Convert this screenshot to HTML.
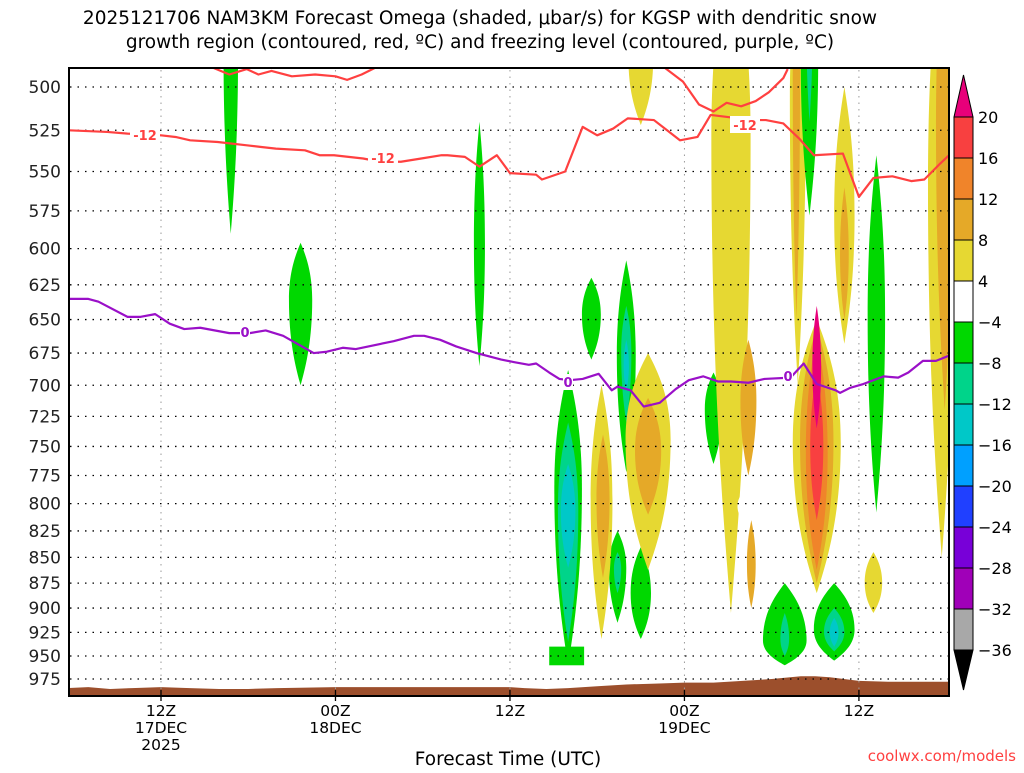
<!DOCTYPE html>
<html><head><meta charset="utf-8"><style>
body{margin:0;background:#fff;width:1024px;height:768px;overflow:hidden;font-family:"Liberation Sans",sans-serif}
svg text{font-family:"DejaVu Sans","Liberation Sans",sans-serif}
</style></head><body>
<svg id="chart" width="1024" height="768" xmlns="http://www.w3.org/2000/svg">
<text x="480" y="24" font-size="18.5" text-anchor="middle">2025121706 NAM3KM Forecast Omega (shaded, μbar/s) for KGSP with dendritic snow</text>
<text x="480" y="48" font-size="18.5" text-anchor="middle">growth region (contoured, red, ºC) and freezing level (contoured, purple, ºC)</text>
<defs><clipPath id="pc"><rect x="69" y="68" width="880" height="628"/></clipPath></defs>
<g id="plot" clip-path="url(#pc)"></g>
<g id="grid"></g>
<g id="lines" clip-path="url(#pc)"></g>
<rect x="69" y="68" width="880" height="628" fill="none" stroke="#000" stroke-width="2"/>
<g id="axes"></g>
<g id="cbar"></g>
<text x="508" y="765" font-size="18.5" text-anchor="middle">Forecast Time (UTC)</text>
<text x="1016" y="761" font-size="15" fill="#ff4040" text-anchor="end">coolwx.com/models</text>
</svg>
<script>
// ---- data ----
const pressureTicks=[500,525,550,575,600,625,650,675,700,725,750,775,800,825,850,875,900,925,950,975];
const timeTickHours=[12,24,36,48,60];
const timeTickLabels=[["12Z","17DEC","2025"],["00Z","18DEC"],["12Z"],["00Z","19DEC"],["12Z"]];
const levelColors={"-12":"#00c8c8","-8":"#00d48a","-4":"#00d800","4":"#e6d832","8":"#e5a928","12":"#f0842a","16":"#f84040","20":"#e8007a"};
// blobs: [hour, pTop, pBottom, halfWidthHours, bulgeFraction, level]
const omegaBlobs=[
[16.8,440,590,0.5,0.3,-4],[21.6,596,700,0.8,0.4,-4],[33.9,520,685,0.38,0.5,-4],
[41.6,620,680,0.65,0.45,-4],[44.0,608,772,0.65,0.45,-4],[44.0,640,730,0.35,0.4,-8],[44.0,665,705,0.18,0.5,-12],
[40.0,688,960,0.95,0.4,-4],[40.0,730,935,0.7,0.4,-8],[40.0,765,860,0.5,0.45,-12],
[43.4,825,915,0.6,0.4,-4],[43.4,845,885,0.25,0.4,-8],[45.0,840,932,0.7,0.5,-4],[50.0,690,765,0.6,0.4,-4],
[45.0,450,522,0.85,0.5,4],
[51.2,420,905,1.35,0.3,4],[52.4,665,775,0.55,0.45,8],[52.6,815,900,0.3,0.5,8],
[55.8,440,700,0.55,0.3,4],[55.7,440,650,0.25,0.3,8],
[57.1,650,885,1.65,0.45,4],[57.1,655,875,1.15,0.45,8],[57.1,662,862,0.75,0.5,12],[57.1,690,815,0.45,0.5,16],[57.1,640,735,0.3,0.5,20],
[56.6,440,578,0.6,0.35,-4],[56.6,440,520,0.22,0.3,-8],
[59.0,500,668,0.7,0.5,4],[59.0,560,650,0.3,0.5,8],
[61.2,540,808,0.6,0.45,-4],
[65.7,420,850,0.95,0.4,4],[65.9,420,720,0.6,0.4,8],
[61.0,845,905,0.6,0.5,4],
[42.3,700,932,0.75,0.45,4],[42.4,740,870,0.45,0.45,8],
[45.5,675,862,1.55,0.4,4],[45.5,710,810,0.9,0.45,8],
[54.9,875,960,1.5,0.7,-4],[54.9,905,950,0.3,0.6,-8],[58.3,875,955,1.4,0.6,-4],[58.3,900,945,0.7,0.55,-8],[58.3,910,940,0.3,0.5,-12]
];
const rectBlobs=[[38.7,41.1,940,960,-4]];
const holeBlobs=[[52.0,790,815,0.35,0.5]];
const redHoursA=[5.6,8.3,9.7,12,13,14,15.9,17.9,18.9,19.9,21.9,22.9,23.9,24.9,25.9,27.1,28.5,29.9,31.3,31.7,32.9,33.9,35.1,36,37.8,38.2,39.8,41.0,42.0,43.1,44.1,45.9,47.7,48.9,49.8,52.7,53.6,54.8,55.9,56.9,58.9,60.0,61.0,62.3,63.6,64.5,65.6,66.2];
const redPresA=[525,526,527,528,529,531,532,534,535,536,537,540,540,541,542,544,544,542,540,540,541,547,540,551,552,555,550,523,528,524,518,519,531,529,516,519,519,521,530,540,539,566,554,553,556,555,545,540];
const redHoursB=[15.5,16.7,17.9,18.7,19.6,21.0,22.6,24.0,24.8,25.8,26.8,46.6,47.9,49.0,50.0,50.9,51.9,52.9,53.8,54.8,55.1];
const redPresB=[489,493,490,493,491,494,493,494,496,493,489,489,497,510,514,509,511,508,503,495,490];
const zeroHours=[5.6,7,7.7,9.7,10.6,11.6,12.6,13.6,14.7,16.7,18.1,19.2,20.4,22.5,23.4,24.5,25.4,28,29.4,30.1,31.2,32.3,33.7,35.4,36.3,37.3,37.8,38.7,39.4,40.1,41.0,42.1,43.0,43.4,44.3,45.2,46.3,47.4,48.3,49.3,50.3,51.2,52.4,53.5,55.3,55.7,56.2,57.1,58.4,58.7,59.4,60.3,61.7,62.7,63.4,64.4,65.3,66.2];
const zeroPres=[635,635,637,648,648,646,653,657,656,660,660,658,662,675,674,671,672,666,662,662,665,670,675,680,682,684,683,690,695,696,695,691,704,701,704,717,714,703,696,693,697,697,698,695,694,689,683,699,704,706,702,699,693,694,690,681,681,677];
const groundHours=[5.6,7,8.5,10,12,14,16,18,20,24,30,36,37,38.5,40,42,44,46,48,50,52,54,56,57,58,60,62,66.2];
const groundPres=[985,984,986,985,984,985,986,986,985,984,984,984,985,986,985,983,981,980,979,979,977,975,972,972,973,977,978,978];
const cbarLevels=[20,16,12,8,4,-4,-8,-12,-16,-20,-24,-28,-32,-36];
const cbarColors=["#f84040","#f0842a","#e5a928","#e6d832","#ffffff","#00d800","#00d48a","#00c8c8","#00a0ff","#2040ff","#7800d8","#a000b8","#a8a8a8"];
// ---- scales ----
const NS="http://www.w3.org/2000/svg";
function X(h){return 161+(h-12)*14.54;}
function Y(p){return 87+886.5*Math.log(p/500);}
function mk(tag,attrs,parent){const e=document.createElementNS(NS,tag);for(const k in attrs)e.setAttribute(k,attrs[k]);parent.appendChild(e);return e;}
const plot=document.getElementById('plot'),grid=document.getElementById('grid'),lines=document.getElementById('lines'),axes=document.getElementById('axes'),cbar=document.getElementById('cbar');
function lens(h,pT,pB,w,b){
 const cx=X(h),yT=Y(pT),yB=Y(pB),hw=w*14.54,yM=yT+(yB-yT)*b;
 return `M${cx},${yT} C${cx+hw*0.4},${yT+(yM-yT)*0.2} ${cx+hw},${yM-(yM-yT)*0.5} ${cx+hw},${yM} C${cx+hw},${yM+(yB-yM)*0.5} ${cx+hw*0.4},${yB-(yB-yM)*0.2} ${cx},${yB} C${cx-hw*0.4},${yB-(yB-yM)*0.2} ${cx-hw},${yM+(yB-yM)*0.5} ${cx-hw},${yM} C${cx-hw},${yM-(yM-yT)*0.5} ${cx-hw*0.4},${yT+(yM-yT)*0.2} ${cx},${yT}Z`;
}
omegaBlobs.forEach(d=>{
 const e=mk('path',{d:lens(d[0],d[1],d[2],d[3],d[4]),fill:levelColors[String(d[5])]},plot);
 
 
});
rectBlobs.forEach(d=>{
 const e=mk('rect',{x:X(d[0]),y:Y(d[2]),width:X(d[1])-X(d[0]),height:Y(d[3])-Y(d[2]),fill:levelColors[String(d[4])]},plot);
 
 
});
holeBlobs.forEach(d=>{
 const e=mk('path',{d:lens(d[0],d[1],d[2],d[3],d[4]),fill:'#fff'},plot);
 
 
});
// ground
let gd=`M${X(groundHours[0])},700 `+groundHours.map((h,i)=>`L${X(h)},${Y(groundPres[i])}`).join(' ')+` L${X(groundHours[groundHours.length-1])},700Z`;
const gEl=mk('path',{d:gd,fill:'#9c4f2c'},plot);


// grid
pressureTicks.forEach((p,i)=>{
 const y=Y(p);
 const l=mk('line',{x1:70,x2:948,y1:y,y2:y,stroke:'#000','stroke-width':1.3,'stroke-dasharray':'1.5 6'},grid);
 
 
 const t=mk('text',{x:61,y:y+6,'font-size':17,'text-anchor':'end',fill:'#222'},axes);
 t.textContent=p;
 
 
});
timeTickHours.forEach((h,i)=>{
 const x=X(h);
 const l=mk('line',{x1:x,x2:x,y1:70,y2:694,stroke:'#999','stroke-width':1,'stroke-dasharray':'1.5 5'},grid);
 
 
 mk('line',{x1:x,x2:x,y1:690,y2:701,stroke:'#000','stroke-width':1.3},axes);
 timeTickLabels[i].forEach((s,j)=>{
  const t=mk('text',{x:x,y:716+j*17,'font-size':15.5,'text-anchor':'middle'},axes);
  t.textContent=s;
  
  
 });
});
// contour lines
function poly(hs,ps,color,name){
 const e=mk('polyline',{points:hs.map((h,i)=>X(h)+','+Y(ps[i])).join(' '),fill:'none',stroke:color,'stroke-width':2.2,'stroke-linejoin':'round'},lines);
 
 
}
poly(redHoursA,redPresA,'#ff4040','dgz-minus12-contour');
poly(redHoursB,redPresB,'#ff4040','dgz-minus12-contour-upper');
poly(zeroHours,zeroPres,'#9a10c8','freezing-level-contour');
function lab(x,y,s,c,name){
 mk('rect',{x:x-15,y:y-9,width:30,height:17,fill:'#fff'},lines);
 const t=mk('text',{x:x,y:y+5,'font-size':13,'font-weight':'bold',fill:c,'text-anchor':'middle'},lines);
 t.textContent=s;
 
 
}
lab(145,135,'-12','#ff4040','contour-label');lab(383,158,'-12','#ff4040','contour-label');lab(745,125,'-12','#ff4040','contour-label');
[[245,332],[568,382],[788,376]].forEach(a=>{
 mk('rect',{x:a[0]-5,y:a[1]-8,width:10,height:16,fill:'#fff'},lines);
 const t=mk('text',{x:a[0],y:a[1]+5,'font-size':13,'font-weight':'bold',fill:'#9a10c8','text-anchor':'middle'},lines);
 t.textContent='0';
 
 
});
// colorbar
const cb0=117,cbh=41;
cbarColors.forEach((c,i)=>{
 const r=mk('rect',{x:954,y:cb0+i*cbh,width:19,height:cbh,fill:c,stroke:'#000','stroke-width':1},cbar);
 
 
});
mk('path',{d:`M954,${cb0} L963.5,75 L973,${cb0}Z`,fill:'#e8007a',stroke:'#000','stroke-width':1},cbar);
mk('path',{d:`M954,${cb0+13*cbh} L963.5,690 L973,${cb0+13*cbh}Z`,fill:'#000',stroke:'#000','stroke-width':1},cbar);
cbarLevels.forEach((v,i)=>{
 const t=mk('text',{x:978,y:cb0+i*cbh+6,'font-size':16},cbar);
 t.textContent=v<0?'\u2212'+(-v):String(v);
 
 
});
</script>
</body></html>
